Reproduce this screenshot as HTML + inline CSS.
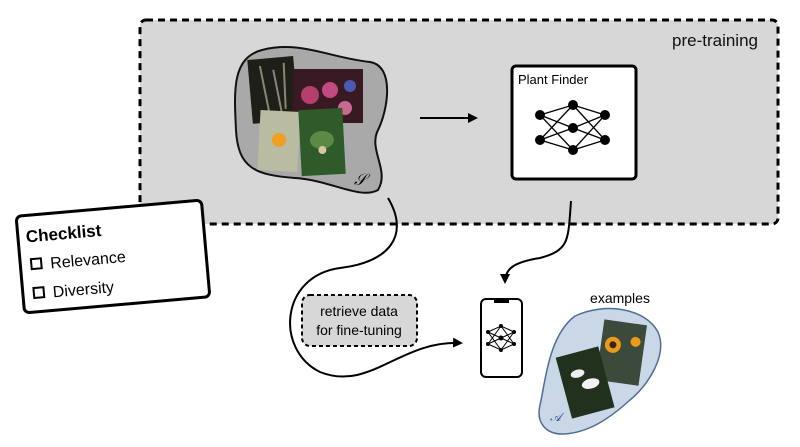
<!DOCTYPE html>
<html><head><meta charset="utf-8"><style>
html,body{margin:0;padding:0;background:#fff;}
svg{display:block;font-family:"Liberation Sans",Arial,sans-serif;}
</style></head><body>
<svg width="800" height="447" viewBox="0 0 800 447" xmlns="http://www.w3.org/2000/svg">
<defs>
<marker id="ah" markerWidth="10" markerHeight="10" refX="8" refY="5" orient="auto" markerUnits="userSpaceOnUse">
<path d="M0,0 L10,5 L0,10 z" fill="#000"/></marker>
</defs>
<rect x="140" y="20" width="638" height="204" rx="6" fill="#d7d7d7" stroke="#000" stroke-width="3" stroke-dasharray="7,5"/>
<text x="758" y="46" font-size="17" text-anchor="end" fill="#111">pre-training</text>
<!-- blob S -->
<path d="M262,50 C300,40 330,58 370,62 C395,66 388,110 378,130 C368,150 390,170 378,190 C360,200 330,180 295,178 C255,175 238,168 236,130 C234,90 232,58 262,50 Z" fill="#a9a9a9" stroke="#111" stroke-width="2"/>
<g transform="rotate(-5 272 90)"><rect x="250" y="58" width="46" height="64" fill="#1e1f18"/><path d="M262,65 L268,118 M275,70 L280,115 M286,64 L284,110" stroke="#8a8670" stroke-width="2"/></g>
<rect x="293" y="69" width="70" height="54" fill="#3a1a22"/>
<circle cx="310" cy="95" r="9" fill="#b5406e"/><circle cx="330" cy="90" r="8" fill="#c24a80"/><circle cx="350" cy="86" r="6" fill="#4a5ab0"/><circle cx="345" cy="108" r="7" fill="#c66a90"/>
<g transform="rotate(3 280 140)"><rect x="259" y="111" width="40" height="60" fill="#b9bca0"/><circle cx="279" cy="140" r="7" fill="#f0a020"/></g>
<g transform="rotate(-3 322 142)"><rect x="300" y="109" width="44" height="66" fill="#2f5a2a"/><ellipse cx="322" cy="140" rx="12" ry="9" fill="#5b8a45"/><circle cx="322" cy="150" r="4" fill="#d8c8a0"/></g>
<text x="354" y="185" font-size="16" font-style="italic" font-family="Liberation Serif,serif">𝒮</text>
<!-- arrow -->
<line x1="420" y1="118" x2="476" y2="118" stroke="#000" stroke-width="2" marker-end="url(#ah)"/>
<!-- Plant finder -->
<rect x="512" y="66" width="124" height="113" rx="4" fill="#fff" stroke="#000" stroke-width="3"/>
<text x="518" y="84" font-size="13">Plant Finder</text>
<g stroke="#000" stroke-width="1.3">
<path d="M540,115 L573,105 M540,115 L573,128 M540,115 L573,150 M540,140 L573,105 M540,140 L573,128 M540,140 L573,150 M605,115 L573,105 M605,115 L573,128 M605,115 L573,150 M605,140 L573,105 M605,140 L573,128 M605,140 L573,150"/>
</g>
<g fill="#000"><circle cx="540" cy="115" r="5"/><circle cx="540" cy="140" r="5"/><circle cx="573" cy="105" r="5"/><circle cx="573" cy="128" r="5"/><circle cx="573" cy="150" r="5"/><circle cx="605" cy="115" r="5"/><circle cx="605" cy="140" r="5"/></g>
<!-- curves -->
<path d="M388,198 C410,235 390,262 340,268 C280,276 275,350 320,372 C370,392 400,340 461,343" fill="none" stroke="#000" stroke-width="2" marker-end="url(#ah)"/>
<path d="M571,201 C568,240 570,250 540,258 C515,262 505,268 505,282" fill="none" stroke="#000" stroke-width="2" marker-end="url(#ah)"/>
<!-- checklist -->
<g transform="rotate(-5 113 257)">
<rect x="20" y="208" width="186" height="97" rx="5" fill="#fff" stroke="#000" stroke-width="3"/>
<text x="28" y="235" font-size="17" font-weight="bold">Checklist</text>
<rect x="31" y="252" width="10" height="10" fill="none" stroke="#000" stroke-width="2"/>
<text x="50" y="263" font-size="16">Relevance</text>
<rect x="31" y="281" width="10" height="10" fill="none" stroke="#000" stroke-width="2"/>
<text x="50" y="292" font-size="16">Diversity</text>
</g>
<!-- retrieve -->
<rect x="302" y="295" width="115" height="51" rx="8" fill="#d7d7d7" stroke="#000" stroke-width="2" stroke-dasharray="4,3"/>
<text x="359" y="316" font-size="14" text-anchor="middle">retrieve data</text>
<text x="359" y="335" font-size="14" text-anchor="middle">for fine-tuning</text>
<!-- phone -->
<rect x="481" y="299" width="41" height="78" rx="5" fill="#fff" stroke="#000" stroke-width="2"/>
<rect x="494" y="299" width="15" height="4" fill="#000"/>
<g stroke="#000" stroke-width="1" fill="none"><path d="M488,332 L501,326 L514,332 M488,344 L501,350 L514,344 M488,332 L501,338 L514,344 M488,344 L501,338 L514,332 M488,332 L501,350 M488,344 L501,326 M514,332 L501,350 M514,344 L501,326"/></g>
<g fill="#000"><circle cx="488" cy="332" r="2"/><circle cx="488" cy="344" r="2"/><circle cx="501" cy="326" r="2"/><circle cx="501" cy="338" r="2.5"/><circle cx="501" cy="350" r="2"/><circle cx="514" cy="332" r="2"/><circle cx="514" cy="344" r="2"/></g>
<!-- examples blob -->
<text x="620" y="303" font-size="14" text-anchor="middle">examples</text>
<path d="M575,316 C605,302 645,308 658,332 C668,355 648,385 630,400 C610,418 590,432 565,434 C545,435 536,422 540,405 C545,385 548,336 575,316 Z" fill="#c9d7e6" stroke="#4e6e93" stroke-width="1.5"/>
<g transform="rotate(8 621 352)"><rect x="600" y="322" width="43" height="61" fill="#3b4a3a"/><circle cx="612" cy="346" r="8" fill="#e89a1a"/><circle cx="612" cy="346" r="3.5" fill="#3a2510"/><circle cx="634" cy="340" r="5" fill="#e89a1a"/></g>
<g transform="rotate(-15 585 382)"><rect x="563" y="351" width="44" height="63" fill="#22301e"/><ellipse cx="580" cy="372" rx="7" ry="4" fill="#eee"/><ellipse cx="590" cy="385" rx="9" ry="5" fill="#f2f2f2"/></g>
<text x="550" y="421" font-size="12" font-style="italic" fill="#2a4a90" font-family="Liberation Serif,serif">𝒜</text>
</svg>
</body></html>
